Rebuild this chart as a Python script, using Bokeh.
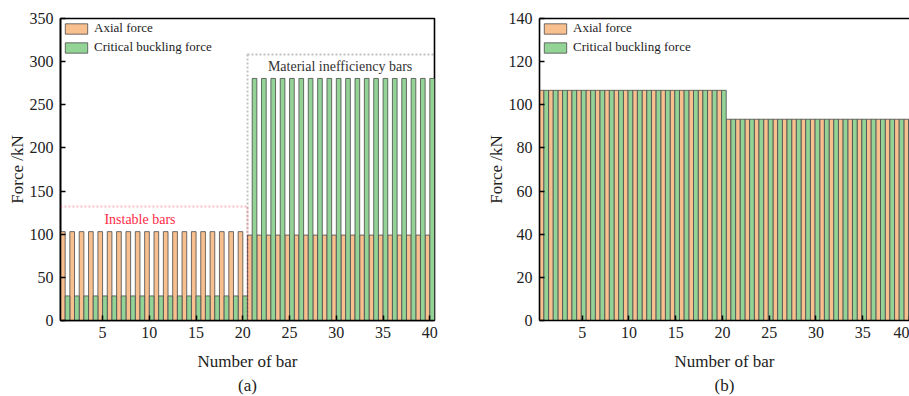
from bokeh.plotting import figure
from bokeh.layouts import row
from bokeh.models import (ColumnDataSource, Range1d, FixedTicker, Label, BoxAnnotation,
                          Legend, LegendItem, Title, LinearAxis)
from bokeh.transform import dodge
from bokeh.embed import file_html
from bokeh.resources import INLINE

# ---------------- data ----------------
bar_no = [1, 2, 3, 4, 5, 6, 7, 8, 9, 10, 11, 12, 13, 14, 15, 16, 17, 18, 19, 20,
          21, 22, 23, 24, 25, 26, 27, 28, 29, 30, 31, 32, 33, 34, 35, 36, 37, 38, 39, 40]

# (a) before optimisation
axial_a = [103, 103, 103, 103, 103, 103, 103, 103, 103, 103,
           103, 103, 103, 103, 103, 103, 103, 103, 103, 103,
           99, 99, 99, 99, 99, 99, 99, 99, 99, 99,
           99, 99, 99, 99, 99, 99, 99, 99, 99, 99]
buckling_a = [28.5, 28.5, 28.5, 28.5, 28.5, 28.5, 28.5, 28.5, 28.5, 28.5,
              28.5, 28.5, 28.5, 28.5, 28.5, 28.5, 28.5, 28.5, 28.5, 28.5,
              280.5, 280.5, 280.5, 280.5, 280.5, 280.5, 280.5, 280.5, 280.5, 280.5,
              280.5, 280.5, 280.5, 280.5, 280.5, 280.5, 280.5, 280.5, 280.5, 280.5]

# (b) after optimisation
axial_b = [106.7, 106.7, 106.7, 106.7, 106.7, 106.7, 106.7, 106.7, 106.7, 106.7,
           106.7, 106.7, 106.7, 106.7, 106.7, 106.7, 106.7, 106.7, 106.7, 106.7,
           93.3, 93.3, 93.3, 93.3, 93.3, 93.3, 93.3, 93.3, 93.3, 93.3,
           93.3, 93.3, 93.3, 93.3, 93.3, 93.3, 93.3, 93.3, 93.3, 93.3]
buckling_b = [106.7, 106.7, 106.7, 106.7, 106.7, 106.7, 106.7, 106.7, 106.7, 106.7,
              106.7, 106.7, 106.7, 106.7, 106.7, 106.7, 106.7, 106.7, 106.7, 106.7,
              93.3, 93.3, 93.3, 93.3, 93.3, 93.3, 93.3, 93.3, 93.3, 93.3,
              93.3, 93.3, 93.3, 93.3, 93.3, 93.3, 93.3, 93.3, 93.3, 93.3]

x_ticks = [5, 10, 15, 20, 25, 30, 35, 40]
y_ticks_a = [0, 50, 100, 150, 200, 250, 300, 350]
y_ticks_b = [0, 20, 40, 60, 80, 100, 120, 140]

series_labels = ["Axial force", "Critical buckling force"]
x_title = "Number of bar"
y_title = "Force /kN"

# ---------------- style ----------------
FONT = "Liberation Serif"
ORANGE = "#F9C08F"
GREEN = "#93D395"
EDGE = "#4a4a4a"
RED = "#ff2a45"
DARK = "#222222"
BOXGREY = "#333333"


def style_axes(p):
    for ax in (p.xaxis[0], p.yaxis[0]):
        ax.axis_line_width = 1.6
        ax.axis_line_color = "black"
        ax.major_tick_in = 5
        ax.major_tick_out = 0
        ax.major_tick_line_width = 1.5
        ax.minor_tick_line_color = None
        ax.major_label_text_font = FONT
        ax.major_label_text_font_size = "16px"
        ax.major_label_text_color = DARK
        ax.axis_label_text_font = FONT
        ax.axis_label_text_font_size = "17px"
        ax.axis_label_text_font_style = "normal"
        ax.axis_label_text_color = DARK
    p.xaxis.major_label_standoff = 6
    p.xaxis.axis_label_standoff = 11
    p.yaxis.major_label_standoff = 7
    p.yaxis.axis_label_standoff = 0
    p.xaxis.axis_label = x_title
    p.yaxis.axis_label = y_title
    p.xgrid.visible = False
    p.ygrid.visible = False


def make_legend(r1, r2):
    return Legend(items=[LegendItem(label=series_labels[0], renderers=[r1]),
                         LegendItem(label=series_labels[1], renderers=[r2])],
                  location="top_left", margin=2, padding=2, spacing=3,
                  border_line_color=None, background_fill_alpha=0,
                  label_text_font=FONT, label_text_font_size="13px",
                  label_text_color=DARK, glyph_width=28, glyph_height=13,
                  label_height=13, label_standoff=4)


def bars(p, src, off_ax, off_bk):
    r1 = p.vbar(x=dodge("bar", off_ax), top="ax", width=0.5, source=src,
                fill_color=ORANGE, line_color=EDGE, line_width=0.8)
    r2 = p.vbar(x=dodge("bar", off_bk), top="bk", width=0.5, source=src,
                fill_color=GREEN, line_color=EDGE, line_width=0.8)
    return r1, r2


src_a = ColumnDataSource(dict(bar=bar_no, ax=axial_a, bk=buckling_a))
src_b = ColumnDataSource(dict(bar=bar_no, ax=axial_b, bk=buckling_b))

# ---------------- panel (a) ----------------
pa = figure(width=468, height=396, output_backend="svg", toolbar_location=None,
            x_range=Range1d(0.5, 40.5), y_range=Range1d(0, 350),
            min_border_left=60, min_border_right=34, min_border_top=18,
            min_border_bottom=76)
pa.outline_line_color = "black"
pa.outline_line_width = 1.6
r1, r2 = bars(pa, src_a, -0.25, 0.25)
style_axes(pa)
pa.xaxis.ticker = FixedTicker(ticks=x_ticks)
pa.yaxis.ticker = FixedTicker(ticks=y_ticks_a)
pa.add_layout(make_legend(r1, r2))

# dotted highlight boxes (the parts beyond the axis box are clipped by Bokeh)
pa.add_layout(BoxAnnotation(left=0.072, right=20.5, bottom=-27.8, top=132.1,
                            fill_alpha=0, line_color=RED, line_width=2,
                            line_dash="2 2", level="overlay"))
pa.add_layout(BoxAnnotation(left=20.5, right=41.14, bottom=-27.8, top=308.3,
                            fill_alpha=0, line_color=BOXGREY, line_width=2,
                            line_dash="2 2", level="overlay"))

pa.add_layout(Label(x=9.0, y=117, text="Instable bars", text_font=FONT,
                    text_font_size="14px", text_color=RED,
                    text_align="center", text_baseline="middle"))
pa.add_layout(Label(x=30.4, y=294.4, text="Material inefficiency bars", text_font=FONT,
                    text_font_size="14px", text_color=BOXGREY,
                    text_align="center", text_baseline="middle"))
pa.add_layout(Title(text="(a)", align="center", text_font=FONT,
                    text_font_size="17px", text_font_style="normal",
                    text_color=DARK, standoff=0), "below")

# ---------------- panel (b) ----------------
pb = figure(width=441, height=396, output_backend="svg", toolbar_location=None,
            x_range=Range1d(0.43, 40.0), y_range=Range1d(0, 140),
            min_border_left=71, min_border_right=0, min_border_top=18,
            min_border_bottom=76)
pb.outline_line_color = None
q1, q2 = bars(pb, src_b, -0.35, 0.15)
style_axes(pb)
pb.xaxis.ticker = FixedTicker(ticks=x_ticks)
pb.yaxis.ticker = FixedTicker(ticks=y_ticks_b)
pb.add_layout(LinearAxis(axis_line_width=1.6, axis_line_color="black",
                         major_tick_line_color=None, minor_tick_line_color=None,
                         major_label_text_font_size="0px",
                         ticker=FixedTicker(ticks=[])), "above")
pb.add_layout(make_legend(q1, q2))
pb.add_layout(Title(text="(b)", align="center", text_font=FONT,
                    text_font_size="17px", text_font_style="normal",
                    text_color=DARK, standoff=0), "below")

layout = row(pa, pb, spacing=0)
open("out.html", "w").write(file_html(layout, INLINE))
